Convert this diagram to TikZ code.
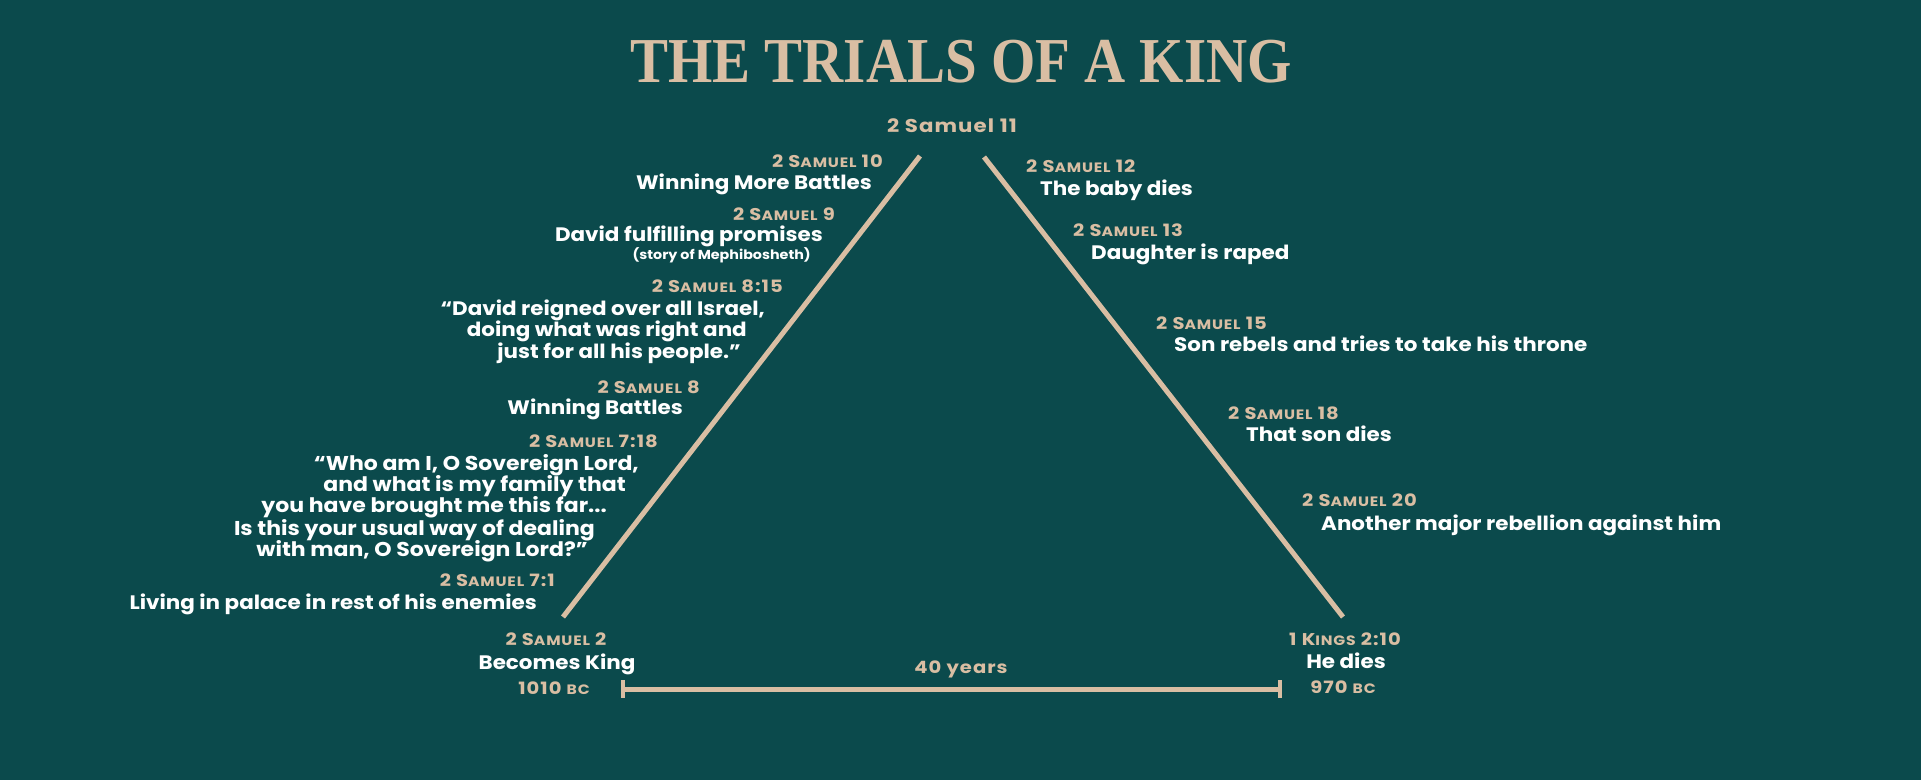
\documentclass[tikz,border=0pt]{standalone}
\usepackage{fontspec}
\usepackage{graphicx}
\setmainfont{Poppins}
\newfontfamily\txtf{Poppins}[FakeStretch=1.1]
\newfontfamily\reff{Poppins}[FakeStretch=1.15,LetterSpace=6]
\newfontfamily\titlef{Liberation Serif}
\definecolor{bgteal}{HTML}{0B4A4C}
\definecolor{tanc}{HTML}{D9BEA3}
\newcommand\smc[1]{\scalebox{0.8}{#1}}
\tikzset{
  rf/.style={text=tanc, font=\reff\bfseries\fontsize{17}{17}\selectfont, inner sep=0pt},
  tx/.style={text=white, font=\txtf\bfseries\fontsize{19.5}{19.5}\selectfont, inner sep=0pt},
  qt/.style={text=white, font=\txtf\bfseries\fontsize{20}{20}\selectfont, inner sep=0pt},
  sm/.style={text=white, font=\txtf\bfseries\fontsize{13}{13}\selectfont, inner sep=0pt},
  L/.style={anchor=base east},
  R/.style={anchor=base west},
  C/.style={anchor=base},
  bar/.style={draw=tanc, line width=5pt},
  tl/.style={draw=tanc, line width=5pt},
  tick/.style={draw=tanc, line width=4pt},
}
\begin{document}
\begin{tikzpicture}[x=1pt,y=-1pt]
\useasboundingbox (0,0) rectangle (1921,780);
\fill[bgteal] (0,0) rectangle (1921,780);
% title
\node[anchor=base, text=tanc, inner sep=0pt, font=\titlef\bfseries\fontsize{64}{64}\selectfont] (title) at (961,82) {\scalebox{0.89}[1]{THE TRIALS OF A KING}};
\node[rf, C, font=\reff\bfseries\fontsize{18.5}{18.5}\selectfont] (s11) at (952,132) {2 Samuel 11};
% triangle
\coordinate (lb) at (563,617);
\coordinate (lt) at (920,156);
\coordinate (rt) at (984,157);
\coordinate (rb) at (1343,617);
\draw[bar] (lb) -- (lt);
\draw[bar] (rt) -- (rb);
% timeline
\coordinate (ta) at (623,689);
\coordinate (tb) at (1280,689);
\coordinate (ta1) at (623,680);
\coordinate (ta2) at (623,698);
\coordinate (tb1) at (1280,680);
\coordinate (tb2) at (1280,698);
\draw[tl] (ta) -- (tb);
\draw[tick] (ta1) -- (ta2);
\draw[tick] (tb1) -- (tb2);
\node[rf, C] (yrs) at (961,673) {40 years};
% left side
\node[rf, L] (s10) at (883,167) {2 S\smc{AMUEL} 10};
\node[tx, L] (t10) at (872,189) {Winning More Battles};
\node[rf, L] (s9) at (835,220) {2 S\smc{AMUEL} 9};
\node[tx, L] (t9) at (823,241.5) {David fulfilling promises};
\node[sm, L] (t9b) at (811,259.5) {(story of Mephibosheth)};
\node[rf, L] (s815) at (783,292.5) {2 S\smc{AMUEL} 8:15};
\node[tx, L] (q1a) at (765,315) {“David reigned over all Israel,};
\node[tx, L] (q1b) at (747,336.5) {doing what was right and};
\node[tx, L] (q1c) at (741,358) {just for all his people.”};
\node[rf, L] (s8) at (700,393) {2 S\smc{AMUEL} 8};
\node[tx, L] (t8) at (683,414) {Winning Battles};
\node[rf, L] (s718) at (658,447.5) {2 S\smc{AMUEL} 7:18};
\node[qt, L] (q2a) at (639,470) {“Who am I, O Sovereign Lord,};
\node[qt, L] (q2b) at (626,491.5) {and what is my family that};
\node[qt, L] (q2c) at (607,512.5) {you have brought me this far...};
\node[qt, L] (q2d) at (595,535) {Is this your usual way of dealing};
\node[qt, L] (q2e) at (588,556.5) {with man, O Sovereign Lord?”};
\node[rf, L] (s71) at (555,586.5) {2 S\smc{AMUEL} 7:1};
\node[tx, L] (t71) at (537,609) {Living in palace in rest of his enemies};
% bottom left
\node[rf, C] (s2) at (556,645) {2 S\smc{AMUEL} 2};
\node[tx, C] (t2) at (557,669) {Becomes King};
\node[rf, C] (y1) at (554,694) {1010 \smc{BC}};
% right side
\node[rf, R] (s12) at (1026,172.5) {2 S\smc{AMUEL} 12};
\node[tx, R] (t12) at (1040,195) {The baby dies};
\node[rf, R] (s13) at (1073,236) {2 S\smc{AMUEL} 13};
\node[tx, R] (t13) at (1091,259) {Daughter is raped};
\node[rf, R] (s15) at (1156,329) {2 S\smc{AMUEL} 15};
\node[tx, R] (t15) at (1174,351.5) {Son rebels and tries to take his throne};
\node[rf, R] (s18) at (1228,419) {2 S\smc{AMUEL} 18};
\node[tx, R] (t18) at (1246,441.5) {That son dies};
\node[rf, R] (s20) at (1302,506.5) {2 S\smc{AMUEL} 20};
\node[tx, R] (t20) at (1321,530) {Another major rebellion against him};
% bottom right
\node[rf, C] (k) at (1345,645) {1 K\smc{INGS} 2:10};
\node[tx, C] (td) at (1346,668) {He dies};
\node[rf, C] (y2) at (1343,693) {970 \smc{BC}};
\end{tikzpicture}
\end{document}
